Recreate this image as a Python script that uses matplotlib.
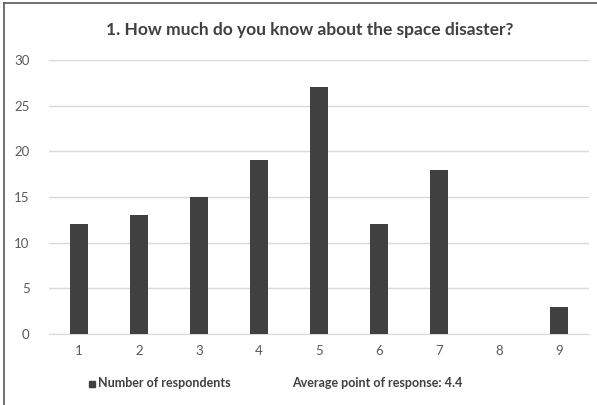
import matplotlib
matplotlib.use("Agg")
import matplotlib.pyplot as plt
from matplotlib.lines import Line2D
from matplotlib.patches import Rectangle

categories = ["1", "2", "3", "4", "5", "6", "7", "8", "9"]
respondents = [12, 13, 15, 19, 27, 12, 18, 0, 3]
average_point = 4.4
title = "1. How much do you know about the space disaster?"
series_name = "Number of respondents"
y_ticks = [0, 5, 10, 15, 20, 25, 30]

plt.rcParams["font.family"] = ["Lato", "DejaVu Sans"]

fig = plt.figure(figsize=(5.97, 4.05), dpi=100)
W, H = 597, 405
ax = fig.add_axes([49 / W, 1 - 334 / H, 540 / W, (334 - 60) / H])

bar_color = "#404040"
text_color = "#595959"
x = range(len(categories))
ax.bar(x, respondents, width=0.3, color=bar_color, zorder=3)

ax.set_xlim(-0.5, len(categories) - 0.5)
ax.set_ylim(0, 30)
ax.set_yticks(y_ticks)
ax.set_xticks(list(x))
ax.set_xticklabels(categories)
ax.yaxis.grid(True, color="#d9d9d9", linewidth=1, zorder=0)
for s in ["top", "right", "left"]:
    ax.spines[s].set_visible(False)
ax.spines["bottom"].set_color("#d9d9d9")
ax.tick_params(axis="both", length=0, colors=text_color, labelsize=9.5)
ax.tick_params(axis="y", pad=14)
ax.tick_params(axis="x", pad=8)

fig.text(0.518, 1 - 30 / H, title, ha="center", va="center",
         fontsize=12.5, fontweight="bold", color="#404040")

# legend row
fig.add_artist(Rectangle((89 / W, 1 - 387 / H), 6 / W, 6 / H,
                         transform=fig.transFigure, color=bar_color))
fig.text(98 / W, 1 - 383 / H, series_name, ha="left", va="center",
         fontsize=9, fontweight="bold", color="#404040")
fig.text(292 / W, 1 - 383 / H, f"Average point of response: {average_point}",
         ha="left", va="center", fontsize=9, fontweight="bold", color="#404040")

# outer frame (top and left edges)
fig.add_artist(Line2D([4 / W, 4 / W], [0, 1 - 3 / H], transform=fig.transFigure,
                      color="#595959", linewidth=1.2))
fig.add_artist(Line2D([4 / W, 1], [1 - 3 / H, 1 - 3 / H], transform=fig.transFigure,
                      color="#595959", linewidth=1.2))

fig.savefig("out.png", dpi=100)
